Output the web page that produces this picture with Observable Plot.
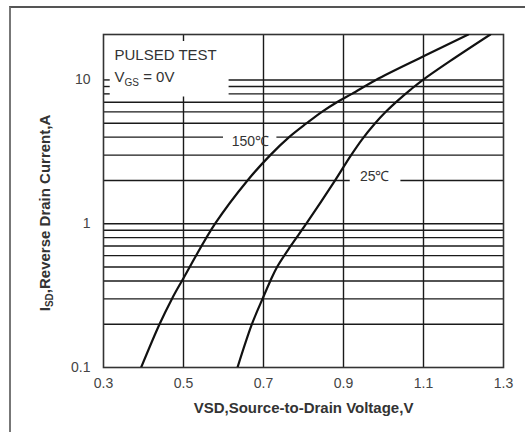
<!DOCTYPE html>
<html><head><meta charset="utf-8">
<script src="https://cdn.jsdelivr.net/npm/d3@7"></script>
<script src="https://cdn.jsdelivr.net/npm/@observablehq/plot@0.6"></script>
<style>
body{margin:0;background:#fff;}
#wrap{position:relative;width:525px;height:432px;overflow:hidden;}
#border{position:absolute;left:9px;top:6px;width:700px;height:700px;border-left:2px solid #777;border-top:2px solid #555;pointer-events:none;z-index:2;}
</style></head><body><div id="wrap"><div id="border"></div></div>
<script>
// Series
const v150 = [0.394, 0.44, 0.471, 0.496, 0.579, 0.66, 0.717, 0.764, 0.808, 0.846, 0.8835, 0.921, 0.981, 1.10, 1.212];
const i150 = [0.1, 0.2, 0.3, 0.4, 1, 2, 3, 4, 5, 6, 7, 8, 10, 14.6, 20.7];
const v25 = [0.635, 0.671, 0.6975, 0.717, 0.734, 0.768, 0.807, 0.879, 0.917, 0.947, 0.977, 1.007, 1.037, 1.067, 1.097, 1.167, 1.267];
const i25 = [0.1, 0.2, 0.3, 0.4, 0.5, 0.7, 1, 2, 2.94, 3.88, 4.92, 6.05, 7.24, 8.53, 9.94, 13.57, 20.7];
const curveNames = ["150℃", "25℃"];
const labelV = [0.667, 0.978];
const labelI = [3.6, 2.07];

// Axes
const xTicks = [0.3, 0.5, 0.7, 0.9, 1.1, 1.3];
const yTicks = [0.1, 1, 10];
const xGrid = [0.5, 0.7, 0.9, 1.1];
const yGrid = [0.2, 0.3, 0.4, 0.5, 0.6, 0.7, 0.8, 0.9, 1, 2, 3, 4, 5, 6, 7, 8, 9, 10];
const xLabel = "VSD,Source-to-Drain Voltage,V";
const yLabel = "ISD,Reverse Drain Current,A";
const noteLines = ["PULSED TEST", "VGS = 0V"];

const xDom = [0.3, 1.3], yDom = [0.1, 20.7];

// Grid segments, with gaps left for the note box and curve labels
const gaps = {4: [0.6, 0.7335], 2: [0.9168, 1.0435]};
const hSegs = [];
for (const y of yGrid) {
  if (y >= 8) { hSegs.push({y, x1: 0.3, x2: 0.3168}, {y, x1: 0.614, x2: 1.3}); }
  else if (gaps[y]) { hSegs.push({y, x1: 0.3, x2: gaps[y][0]}, {y, x1: gaps[y][1], x2: 1.3}); }
  else hSegs.push({y, x1: 0.3, x2: 1.3});
}
const vSegs = [];
for (const x of xGrid) {
  if (x === 0.5) { vSegs.push({x, y1: 0.1, y2: 7.6}, {x, y1: 18.5, y2: 20.7}); }
  else vSegs.push({x, y1: 0.1, y2: 20.7});
}
const d150 = v150.map((v, k) => ({v, i: i150[k]}));
const d25 = v25.map((v, k) => ({v, i: i25[k]}));
const labels = curveNames.map((t, k) => ({t, v: labelV[k], i: labelI[k]}));

const font = "'Liberation Sans', Arial, Helvetica, sans-serif";
const chart = Plot.plot({
  width: 525, height: 432,
  marginLeft: 103, marginRight: 22, marginTop: 34, marginBottom: 65,
  style: {fontFamily: font, color: "#333", background: "transparent"},
  x: {domain: xDom, axis: null},
  y: {type: "log", domain: yDom, axis: null},
  marks: [
    Plot.ruleY(hSegs, {y: "y", x1: "x1", x2: "x2", stroke: "#1a1a1a", strokeWidth: 1.4}),
    Plot.ruleX(vSegs, {x: "x", y1: "y1", y2: "y2", stroke: "#1a1a1a", strokeWidth: 1.4}),
    Plot.frame({stroke: "#333", strokeWidth: 1.6}),
    Plot.line(d150, {x: "v", y: "i", curve: "catmull-rom", stroke: "#111", strokeWidth: 2.2, clip: true}),
    Plot.line(d25, {x: "v", y: "i", curve: "catmull-rom", stroke: "#111", strokeWidth: 2.2, clip: true}),
    // tick labels
    Plot.text(xTicks, {x: d => d, frameAnchor: "bottom", lineAnchor: "top", dy: 11, text: d => d.toFixed(1), fontSize: 14, fill: "#444"}),
    Plot.text(yTicks, {y: d => d, frameAnchor: "left", textAnchor: "end", lineAnchor: "middle", dx: -13, text: d => String(d), fontSize: 14, fill: "#444"}),
    Plot.text(labels, {x: "v", y: "i", text: "t", dy: -2, fontSize: 14, fill: "#333", fontFamily: font}),
    Plot.text([noteLines[0]], {frameAnchor: "top-left", dx: 11, dy: 21, textAnchor: "start", lineAnchor: "middle", fontSize: 15, fill: "#333"}),
    Plot.text([noteLines[1]], {frameAnchor: "top-left", dx: 11, dy: 43, textAnchor: "start", lineAnchor: "middle", fontSize: 15, fill: "#333"}),
    Plot.text([xLabel], {frameAnchor: "bottom", dy: 41, lineAnchor: "middle", textAnchor: "middle", fontSize: 15, fontWeight: "bold", fill: "#333"}),
    Plot.text([yLabel], {frameAnchor: "left", dx: -58, dy: 12, rotate: -90, textAnchor: "middle", lineAnchor: "middle", fontSize: 15, fontWeight: "bold", fill: "#333"})
  ]
});

// Subscripts
d3.select(chart).selectAll("text").each(function () {
  const t = this.textContent;
  const sel = d3.select(this);
  if (t === yLabel) {
    sel.text("");
    sel.append("tspan").text("I");
    sel.append("tspan").attr("font-size", 10).attr("dy", 3).text("SD");
    sel.append("tspan").attr("dy", -3).text(",Reverse Drain Current,A");
  } else if (t === noteLines[1]) {
    sel.text("");
    sel.append("tspan").text("V");
    sel.append("tspan").attr("font-size", 10).attr("dy", 4).text("GS");
    sel.append("tspan").attr("dy", -4).text(" = 0V");
  }
});
document.getElementById("wrap").appendChild(chart);
</script>
</body></html>
